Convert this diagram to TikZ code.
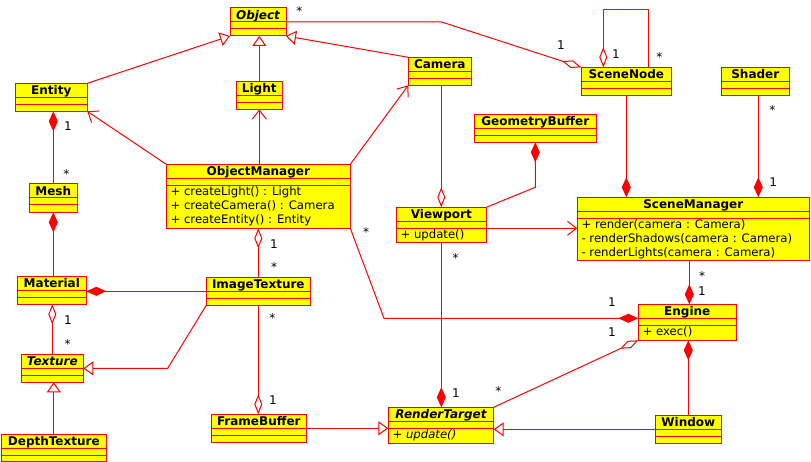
\documentclass[tikz,border=0pt]{standalone}
\usepackage{fontspec}
\setmainfont{DejaVu Sans}
\usetikzlibrary{arrows.meta,calc}
\definecolor{umlred}{RGB}{255,0,0}
\definecolor{umlyellow}{RGB}{255,255,0}
\tikzset{
  clsbox/.style={draw=umlred, fill=umlyellow, line width=1pt, inner sep=0pt, outer sep=0pt},
  clstitle/.style={anchor=base, inner sep=0pt, font=\fontsize{12}{14}\selectfont\bfseries},
  divline/.style={draw=umlred, line width=1pt},
  opline/.style={anchor=base west, inner sep=0pt, font=\fontsize{11.7}{14}\selectfont},
  mult/.style={anchor=base, inner sep=0pt, font=\fontsize{12}{14}\selectfont},
  conn/.style={draw=umlred, line width=1pt},
  gen/.style={conn, -{Triangle[open, length=10pt, width=14pt, fill=white]}},
  nav/.style={conn, -{Straight Barb[length=9pt, width=14pt]}},
  compE/.style={conn, -{Diamond[length=20pt, width=9pt]}},
  compS/.style={conn, {Diamond[length=20pt, width=9pt]}-},
  aggE/.style={conn, -{Diamond[open, length=20pt, width=8pt, fill=white]}},
  aggS/.style={conn, {Diamond[open, length=20pt, width=8pt, fill=white]}-}
}
% #1 name, #2 x left, #3 y top, #4 x right, #5 y bottom, #6 title
\newcommand\umlcls[6]{%
  \node[clsbox, minimum width={#4-#2}, minimum height={#5-#3}] (#1) at ({(#2+#4)/2},{(#3+#5)/2}) {};
  \node[clstitle] (#1-t) at ({(#2+#4)/2},{#3+11.5}) {#6};
  \draw[divline] ([yshift=-14pt]#1.north west) -- ([yshift=-14pt]#1.north east);
  \draw[divline] ([yshift=-21pt]#1.north west) -- ([yshift=-21pt]#1.north east);
}
\begin{document}
\begin{tikzpicture}[x=1pt,y=-1pt]
\fill[white] (0,0) rectangle (811,462);
\useasboundingbox (0,0) rectangle (811,462);

% classes
\umlcls{Object}{230}{8}{286}{36}{\itshape Object}
\umlcls{Entity}{15.3}{83.3}{87.3}{111.3}{Entity}
\umlcls{Light}{236.3}{81.3}{282.3}{109.3}{Light}
\umlcls{Camera}{408.3}{57.3}{471.3}{85.3}{Camera}
\umlcls{SceneNode}{581.3}{67.3}{671.3}{95.3}{SceneNode}
\umlcls{Shader}{721.3}{67.3}{789.3}{95.3}{Shader}
\umlcls{GeometryBuffer}{474.3}{114.3}{596.3}{142.3}{GeometryBuffer}
\umlcls{ObjectManager}{166.3}{164.3}{350.3}{228.3}{ObjectManager}
\umlcls{Mesh}{29.3}{184}{77.3}{212.3}{Mesh}
\umlcls{Viewport}{396.3}{207.3}{486.3}{243}{Viewport}
\umlcls{SceneManager}{577.3}{197.3}{809.3}{261}{SceneManager}
\umlcls{Material}{17.3}{276.3}{86.3}{304.3}{Material}
\umlcls{ImageTexture}{206.3}{277.3}{310.3}{305.3}{ImageTexture}
\umlcls{Engine}{638.3}{304.3}{736.3}{340.3}{Engine}
\umlcls{Texture}{21.3}{354.3}{83.3}{382.3}{\itshape Texture}
\umlcls{FrameBuffer}{211.3}{414.3}{306.3}{442.3}{FrameBuffer}
\umlcls{RenderTarget}{388.3}{407.3}{493.7}{443.3}{\itshape RenderTarget}
\umlcls{Window}{655.3}{415.3}{721.3}{443.3}{Window}
\umlcls{DepthTexture}{1.3}{434}{106.3}{461}{DepthTexture}

% operations
\node[opline] (om-op1) at ($(ObjectManager.north west)+(4,31)$) {+ createLight() : Light};
\node[opline] (om-op2) at ($(ObjectManager.north west)+(4,45)$) {+ createCamera() : Camera};
\node[opline] (om-op3) at ($(ObjectManager.north west)+(4,59)$) {+ createEntity() : Entity};
\node[opline] (sm-op1) at ($(SceneManager.north west)+(4,31)$) {+ render(camera : Camera)};
\node[opline] (sm-op2) at ($(SceneManager.north west)+(4,45)$) {- renderShadows(camera : Camera)};
\node[opline] (sm-op3) at ($(SceneManager.north west)+(4,59)$) {- renderLights(camera : Camera)};
\node[opline] (vp-op1) at ($(Viewport.north west)+(4,31)$) {+ update()};
\node[opline] (en-op1) at ($(Engine.north west)+(4,31)$) {+ exec()};
\node[opline] (rt-op1) at ($(RenderTarget.north west)+(4,31)$) {\itshape + update()};

% helper coordinates
\coordinate (bendA) at (441.7,22);
\coordinate (gbBend) at (535.3,187.3);
\coordinate (omBend) at (384,318.3);
\coordinate (itBend) at (167.7,368.3);
\coordinate (snL) at ([xshift=22pt]SceneNode.north west);
\coordinate (snR) at ([xshift=67pt]SceneNode.north west);
\coordinate (snLt) at (603.3,9.3);
\coordinate (snRt) at (648.3,9.3);
\coordinate (shB) at ([xshift=3pt]Shader.south);
\coordinate (engT) at ([xshift=2pt]Engine.north);
\coordinate (engDiv) at ([yshift=-14pt]Engine.north west);
\coordinate (vpDiv) at ([yshift=-21pt]Viewport.north east);
\coordinate (wnDiv) at ([yshift=-14pt]Window.north west);
\coordinate (fbDiv) at ([yshift=-14pt]FrameBuffer.north east);
\coordinate (itDiv) at ([yshift=-14pt]ImageTexture.north west);

% generalizations
\draw[gen] (Entity.north east) -- (Object.south west);
\draw[gen] (Light.north) -- (Light.north |- Object.south);
\draw[gen] (Camera.north west) -- (Object.south east);
\draw[gen] (wnDiv) -- (wnDiv -| RenderTarget.east);
\draw[gen] (fbDiv) -- (fbDiv -| RenderTarget.west);
\draw[gen] (ImageTexture.south west) -- (itBend) -- (itBend -| Texture.east);
\draw[gen] (DepthTexture.north) -- (DepthTexture.north |- Texture.south);

% navigable associations
\draw[nav] (ObjectManager.north west) -- (Entity.south east);
\draw[nav] (ObjectManager.north -| Light.south) -- (Light.south);
\draw[nav] (ObjectManager.north east) -- (Camera.south west);
\draw[nav] (vpDiv) -- (vpDiv -| SceneManager.west);

% aggregations
\draw[aggE] (Object.east) -- (bendA) -- (SceneNode.north west);
\draw[aggS] (snL) -- (snLt) -- (snRt) -- (snR);
\draw[aggE] (Camera.south -| Viewport.north) -- (Viewport.north);
\draw[aggE] (RenderTarget.north east) -- (Engine.south west);
\draw[aggE] (ImageTexture.south) -- (ImageTexture.south |- FrameBuffer.north);
\draw[aggS] (ObjectManager.south -| ImageTexture.north) -- (ImageTexture.north);
\draw[aggS] (Texture.north |- Material.south) -- (Texture.north);

% compositions
\draw[compE] (SceneNode.south) -- (SceneNode.south |- SceneManager.north);
\draw[compE] (shB) -- (shB |- SceneManager.north);
\draw[compS] (GeometryBuffer.south -| gbBend) -- (gbBend) -- (Viewport.north east);
\draw[compE] (engT |- SceneManager.south) -- (engT);
\draw[compE] (ObjectManager.south east) -- (omBend) -- (engDiv);
\draw[compE] (Viewport.south) -- (Viewport.south |- RenderTarget.north);
\draw[compE] (Window.north) -- (Window.north |- Engine.south);
\draw[compS] (itDiv -| Material.east) -- (itDiv);
\draw[compS] (Mesh.south) -- (Mesh.south |- Material.north);
\draw[compS] (Mesh.north |- Entity.south) -- (Mesh.north);

% multiplicities
\node[mult] (m1) at (299.3,15.3) {*};
\node[mult] (m2) at (561,50) {1};
\node[mult] (m3) at (616,59) {1};
\node[mult] (m4) at (659.3,61.3) {*};
\node[mult] (m5) at (772.3,114.3) {*};
\node[mult] (m6) at (773.3,186.7) {1};
\node[mult] (m7) at (68,131) {1};
\node[mult] (m8) at (66.3,178.7) {*};
\node[mult] (m9) at (274,248.3) {1};
\node[mult] (m10) at (274,271.3) {*};
\node[mult] (m11) at (366,236.3) {*};
\node[mult] (m12) at (612,306.7) {1};
\node[mult] (m13) at (455.7,263) {*};
\node[mult] (m14) at (702,280.3) {*};
\node[mult] (m15) at (702,295) {1};
\node[mult] (m16) at (456,397) {1};
\node[mult] (m17) at (498.3,395.3) {*};
\node[mult] (m18) at (612,336.7) {1};
\node[mult] (m19) at (68,324.3) {1};
\node[mult] (m20) at (67.7,348.7) {*};
\node[mult] (m21) at (272.3,322.3) {*};
\node[mult] (m22) at (273,404.7) {1};
\end{tikzpicture}
\end{document}
